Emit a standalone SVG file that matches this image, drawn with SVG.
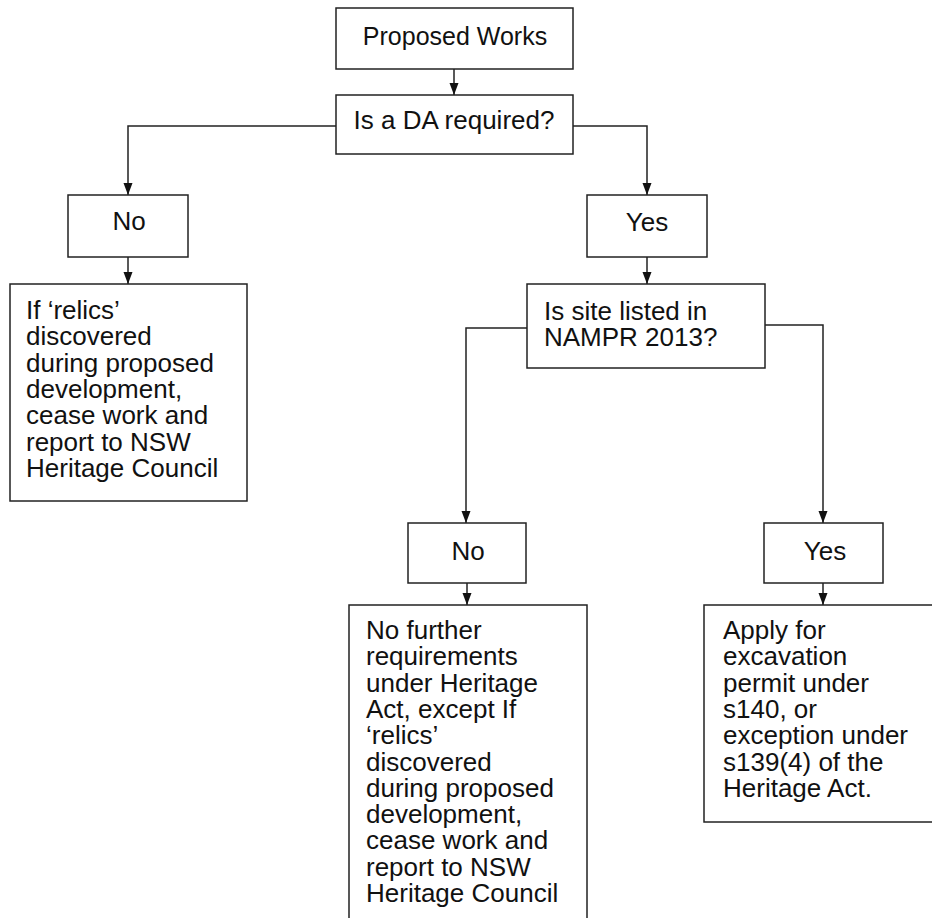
<svg xmlns="http://www.w3.org/2000/svg" width="932" height="918" viewBox="0 0 932 918">
<style>
.box{fill:#fff;stroke:#222;stroke-width:1.5}
.t{font-family:"Liberation Sans",Arial,sans-serif;font-size:26px;fill:#111}
.c{text-anchor:middle}
.conn{fill:none;stroke:#222;stroke-width:1.5}
</style>
<defs>
<marker id="arr" markerUnits="userSpaceOnUse" markerWidth="10" markerHeight="13" refX="5" refY="12" orient="auto-start-reverse" viewBox="0 0 10 13">
<path d="M0,0 L10,0 L5,12 Z" fill="#111" transform="rotate(-90 5 6)"/>
</marker>
<marker id="ah" markerUnits="userSpaceOnUse" markerWidth="12" markerHeight="10" refX="12" refY="5" orient="auto" viewBox="0 0 12 10">
<path d="M0,0.5 L12,5 L0,9.5 Z" fill="#111"/>
</marker>
</defs>
<rect width="932" height="918" fill="#fff"/>
<g id="connectors">
<path class="conn" d="M454,69 V95" marker-end="url(#ah)"/>
<path class="conn" d="M336,126 H128 V195" marker-end="url(#ah)"/>
<path class="conn" d="M573,126 H647 V195" marker-end="url(#ah)"/>
<path class="conn" d="M128,257 V284" marker-end="url(#ah)"/>
<path class="conn" d="M647,257 V284" marker-end="url(#ah)"/>
<path class="conn" d="M527,328 H466 V523" marker-end="url(#ah)"/>
<path class="conn" d="M765,325 H823 V523" marker-end="url(#ah)"/>
<path class="conn" d="M467,583 V605" marker-end="url(#ah)"/>
<path class="conn" d="M823,583 V605" marker-end="url(#ah)"/>
</g>
<g id="proposed-works">
<rect class="box" x="336" y="8" width="237" height="61"/>
<text class="t c" x="455" y="45" style="font-size:25px">Proposed Works</text>
</g>
<g id="da-required">
<rect class="box" x="336" y="95" width="237" height="59"/>
<text class="t c" x="454" y="129">Is a DA required?</text>
</g>
<g id="no-da">
<rect class="box" x="68" y="195" width="120" height="62"/>
<text class="t c" x="129" y="230">No</text>
</g>
<g id="yes-da">
<rect class="box" x="587" y="195" width="120" height="62"/>
<text class="t c" x="647" y="231">Yes</text>
</g>
<g id="relics-left">
<rect class="box" x="10" y="284" width="237" height="217"/>
<text class="t" x="26" y="319">If ‘relics’</text>
<text class="t" x="26" y="345.3">discovered</text>
<text class="t" x="26" y="371.6">during proposed</text>
<text class="t" x="26" y="397.9">development,</text>
<text class="t" x="26" y="424.2">cease work and</text>
<text class="t" x="26" y="450.5">report to NSW</text>
<text class="t" x="26" y="477">Heritage Council</text>
</g>
<g id="nampr">
<rect class="box" x="527" y="284" width="238" height="84"/>
<text class="t" x="544" y="320">Is site listed in</text>
<text class="t" x="544" y="346">NAMPR 2013?</text>
</g>
<g id="no-nampr">
<rect class="box" x="408" y="523" width="118" height="60"/>
<text class="t c" x="468" y="560">No</text>
</g>
<g id="yes-nampr">
<rect class="box" x="764" y="523" width="119" height="60"/>
<text class="t c" x="825" y="560">Yes</text>
</g>
<g id="no-further">
<rect class="box" x="349" y="605" width="238" height="340"/>
<text class="t" x="366" y="639">No further</text>
<text class="t" x="366" y="665.3">requirements</text>
<text class="t" x="366" y="691.6">under Heritage</text>
<text class="t" x="366" y="717.9">Act, except If</text>
<text class="t" x="366" y="744.2">‘relics’</text>
<text class="t" x="366" y="770.5">discovered</text>
<text class="t" x="366" y="796.8">during proposed</text>
<text class="t" x="366" y="823.1">development,</text>
<text class="t" x="366" y="849.4">cease work and</text>
<text class="t" x="366" y="875.7">report to NSW</text>
<text class="t" x="366" y="902">Heritage Council</text>
</g>
<g id="apply-permit">
<rect class="box" x="704" y="605" width="240" height="217"/>
<text class="t" x="723" y="639">Apply for</text>
<text class="t" x="723" y="665.3">excavation</text>
<text class="t" x="723" y="691.6">permit under</text>
<text class="t" x="723" y="717.9">s140, or</text>
<text class="t" x="723" y="744.2">exception under</text>
<text class="t" x="723" y="770.5">s139(4) of the</text>
<text class="t" x="723" y="797">Heritage Act.</text>
</g>
</svg>
